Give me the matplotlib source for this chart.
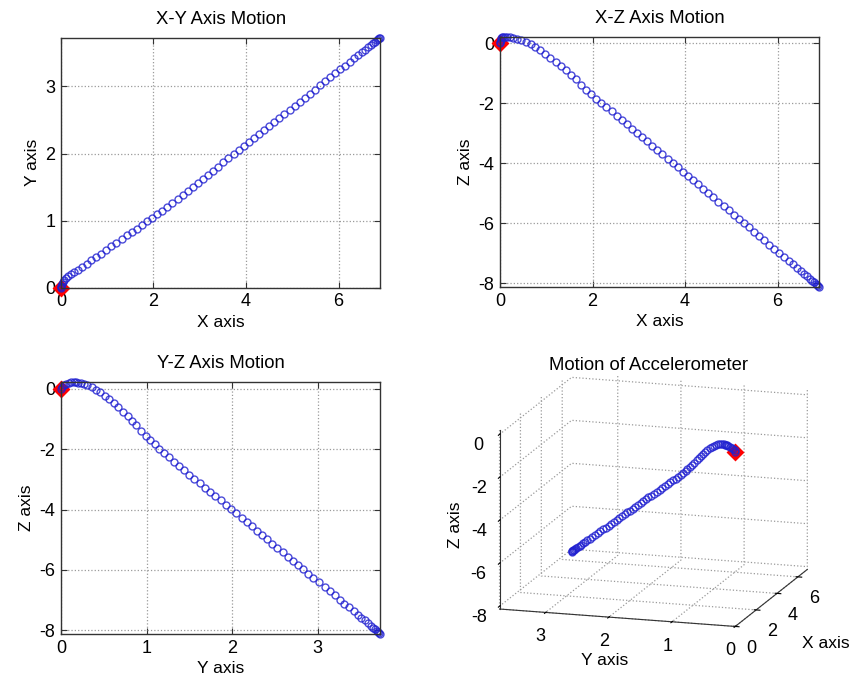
"""Accelerometer motion: three planar projections plus the 3-D path."""

import matplotlib

matplotlib.use("Agg")
import matplotlib.pyplot as plt

x_pos = [
    0.00, 0.00, 0.01, 0.02, 0.04, 0.07, 0.11, 0.16, 0.22, 0.29,
    0.37, 0.46, 0.56, 0.66, 0.76, 0.87, 0.98, 1.09, 1.20, 1.31,
    1.42, 1.53, 1.64, 1.75, 1.86, 1.97, 2.08, 2.19, 2.30, 2.41,
    2.52, 2.63, 2.74, 2.85, 2.96, 3.07, 3.18, 3.29, 3.40, 3.51,
    3.62, 3.73, 3.84, 3.95, 4.06, 4.17, 4.28, 4.39, 4.50, 4.61,
    4.72, 4.83, 4.94, 5.05, 5.16, 5.27, 5.38, 5.49, 5.60, 5.71,
    5.82, 5.93, 6.04, 6.14, 6.24, 6.33, 6.42, 6.50, 6.57, 6.64,
    6.70, 6.75, 6.79, 6.83, 6.86, 6.88, 6.90,
]
y_pos = [
    0.00, 0.01, 0.03, 0.06, 0.09, 0.12, 0.15, 0.18, 0.20, 0.23,
    0.27, 0.31, 0.36, 0.41, 0.46, 0.51, 0.56, 0.62, 0.67, 0.72,
    0.78, 0.83, 0.88, 0.94, 0.99, 1.04, 1.10, 1.14, 1.20, 1.26,
    1.32, 1.38, 1.44, 1.50, 1.56, 1.62, 1.68, 1.74, 1.80, 1.87,
    1.93, 1.99, 2.05, 2.11, 2.17, 2.23, 2.29, 2.35, 2.41, 2.47,
    2.53, 2.59, 2.65, 2.71, 2.77, 2.83, 2.89, 2.95, 3.02, 3.08,
    3.14, 3.20, 3.26, 3.31, 3.37, 3.42, 3.47, 3.51, 3.55, 3.59,
    3.62, 3.65, 3.67, 3.69, 3.71, 3.72, 3.73,
]
z_pos = [
    0.00, 0.06, 0.13, 0.18, 0.21, 0.22, 0.22, 0.22, 0.21, 0.19,
    0.16, 0.12, 0.06, -0.02, -0.11, -0.22, -0.34, -0.47, -0.61, -0.76,
    -0.90, -1.05, -1.20, -1.38, -1.55, -1.70, -1.84, -1.99, -2.13, -2.27,
    -2.42, -2.56, -2.70, -2.85, -2.99, -3.13, -3.27, -3.42, -3.56, -3.70,
    -3.85, -3.99, -4.13, -4.28, -4.42, -4.56, -4.70, -4.85, -4.99, -5.13,
    -5.28, -5.42, -5.56, -5.71, -5.85, -5.99, -6.13, -6.28, -6.42, -6.56,
    -6.71, -6.85, -6.99, -7.12, -7.25, -7.37, -7.49, -7.59, -7.68, -7.77,
    -7.85, -7.92, -7.97, -8.02, -8.06, -8.09, -8.13,
]

x_ticks = [0, 2, 4, 6]
y_ticks = [0, 1, 2, 3]
z_ticks = [-8, -6, -4, -2, 0]

FONT = 13
GRID = dict(linestyle=":", color="#9a9a9a", linewidth=0.9)
PATH = dict(linestyle="none", marker="o", markersize=5.0, markerfacecolor="none",
            markeredgecolor="#2020d0", markeredgewidth=1.0, alpha=0.8, clip_on=False)
START = dict(linestyle="none", marker="D", markersize=7, markerfacecolor="red",
             markeredgecolor="red", markeredgewidth=2, clip_on=False)


def style_2d(ax, title, xlabel, ylabel, xticks, yticks):
    ax.set_title(title, fontsize=13.3, pad=10)
    ax.set_xlabel(xlabel, fontsize=12.5, labelpad=3)
    ax.set_ylabel(ylabel, fontsize=12.5, labelpad=4)
    ax.set_xticks(xticks)
    ax.set_yticks(yticks)
    ax.grid(True, **GRID)
    ax.tick_params(direction="in", top=True, right=True, length=4,
                   labelsize=FONT, pad=4, color="#333333")
    for sp in ax.spines.values():
        sp.set_color("#333333")
        sp.set_linewidth(1.0)


def main() -> None:
    plt.rcParams["font.family"] = ["Liberation Sans", "DejaVu Sans"]
    plt.rcParams["axes.unicode_minus"] = False

    fig = plt.figure(figsize=(8.49, 6.82), dpi=100)

    ax1 = fig.add_axes([0.0718, 0.578, 0.376, 0.367])
    ax1.plot(x_pos[:1], y_pos[:1], **START)
    ax1.plot(x_pos, y_pos, **PATH)
    ax1.set_xlim(0, max(x_pos))
    ax1.set_ylim(0, max(y_pos))
    style_2d(ax1, "X-Y Axis Motion", "X axis", "Y axis", x_ticks, y_ticks)

    ax2 = fig.add_axes([0.589, 0.579, 0.376, 0.367])
    ax2.plot(x_pos[:1], z_pos[:1], **START)
    ax2.plot(x_pos, z_pos, **PATH)
    ax2.set_xlim(0, max(x_pos))
    ax2.set_ylim(min(z_pos), max(z_pos))
    style_2d(ax2, "X-Z Axis Motion", "X axis", "Z axis", x_ticks, z_ticks)

    ax3 = fig.add_axes([0.0718, 0.0704, 0.376, 0.369])
    ax3.plot(y_pos[:1], z_pos[:1], **START)
    ax3.plot(y_pos, z_pos, **PATH)
    ax3.set_xlim(0, max(y_pos))
    ax3.set_ylim(min(z_pos), max(z_pos))
    style_2d(ax3, "Y-Z Axis Motion", "Y axis", "Z axis", y_ticks, z_ticks)

    ax4 = fig.add_axes([0.529, 0.0005, 0.47, 0.52], projection="3d")
    ax4.set_proj_type("ortho")
    ax4.set_box_aspect((4, 4, 3), zoom=1.08)
    ax4.plot(x_pos[:1], y_pos[:1], z_pos[:1], **START)
    ax4.plot(x_pos, y_pos, z_pos, **PATH)
    ax4.set_xlim(0, max(x_pos))
    ax4.set_ylim(0, max(y_pos))
    ax4.set_zlim(min(z_pos), max(z_pos))
    ax4.set_xticks(x_ticks)
    ax4.set_yticks(y_ticks)
    ax4.set_zticks(z_ticks)
    ax4.set_title("Motion of Accelerometer", fontsize=13.3, y=0.93)
    for axis in (ax4.xaxis, ax4.yaxis, ax4.zaxis):
        axis.set_rotate_label(False)
        axis.set_pane_color((1, 1, 1, 0))
        axis.pane.set_edgecolor("none")
        axis._axinfo["grid"].update(GRID)
        axis.line.set_color("#333333")
    ax4.set_xlabel("X axis", fontsize=12.5, labelpad=10)
    ax4.set_ylabel("Y axis", fontsize=12.5, labelpad=3)
    ax4.set_zlabel("Z axis", fontsize=12.5, labelpad=-2, rotation=90)
    ax4.tick_params(labelsize=FONT, pad=1)
    ax4.view_init(elev=14, azim=197)

    fig.savefig("out.png", dpi=100)


if __name__ == "__main__":
    main()
